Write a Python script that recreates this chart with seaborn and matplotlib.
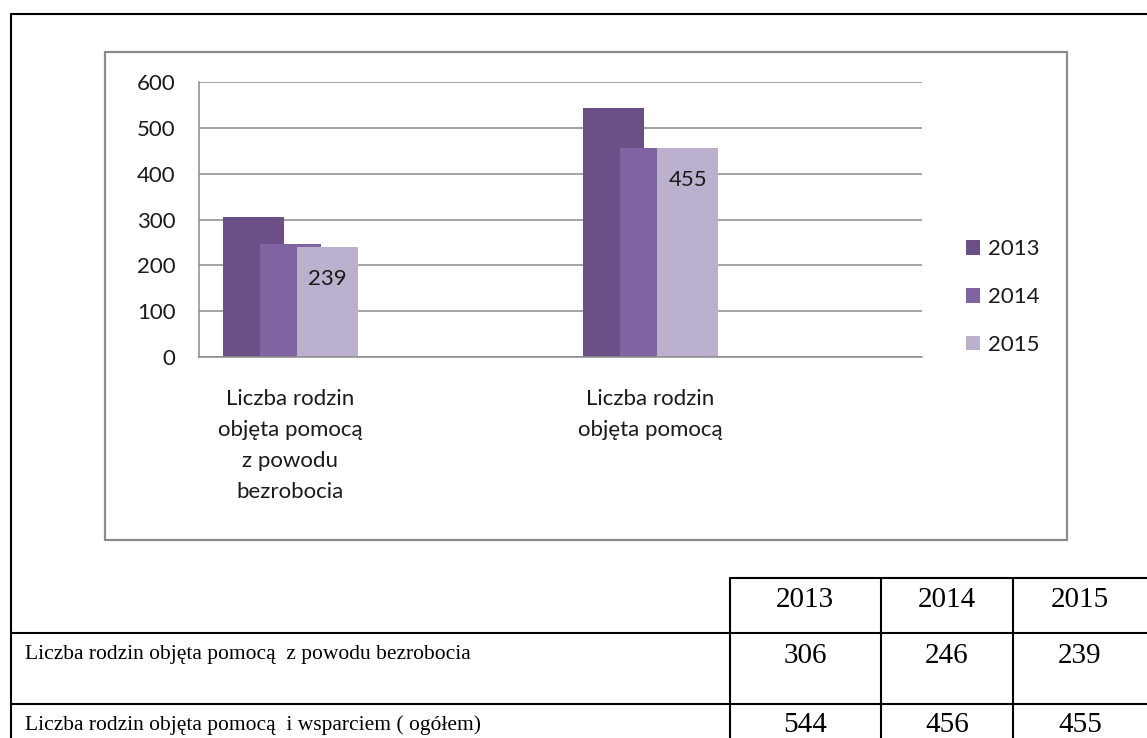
import matplotlib
matplotlib.use("Agg")
import matplotlib.pyplot as plt
from matplotlib.patches import Patch, Rectangle
from matplotlib.lines import Line2D
import seaborn as sns
import pandas as pd

# --- DANE ---
categories = ["Liczba rodzin\nobjęta pomocą\nz powodu\nbezrobocia",
              "Liczba rodzin\nobjęta pomocą"]
years = ["2013", "2014", "2015"]
v2013 = [306, 544]
v2014 = [246, 456]
v2015 = [239, 455]
y_ticks = [0, 100, 200, 300, 400, 500, 600]
table_header = ["2013", "2014", "2015"]
table_labels = ["Liczba rodzin objęta pomocą  z powodu bezrobocia",
                "Liczba rodzin objęta pomocą  i wsparciem ( ogółem)"]
table_row1 = ["306", "246", "239"]
table_row2 = ["544", "456", "455"]
# --- KONIEC DANYCH ---

colors = ["#6a5087", "#8064a2", "#bbb0cd"]
offsets = [-0.103, 0.0, 0.103]
bar_w = 0.171
W, H = 1147, 738


def px(x):
    return x / W


def py(y):
    return 1 - y / H


sns.set_style("white")
plt.rcParams["font.family"] = ["Lato", "DejaVu Sans"]

fig = plt.figure(figsize=(W / 100, H / 100), dpi=100)
ax = fig.add_axes([px(199), py(357), px(922) - px(199), py(82) - py(357)])

series = [v2013, v2014, v2015]
for year, vals, off, col in zip(years, series, offsets, colors):
    df = pd.DataFrame({"pos": [i + off for i in range(len(categories))],
                       "val": vals})
    sns.barplot(data=df, x="pos", y="val", native_scale=True, width=bar_w,
                color=col, saturation=1, errorbar=None, linewidth=0,
                edgecolor="none", ax=ax)

# etykiety tylko dla 2015
for bar, v in zip(ax.containers[-1], v2015):
    ax.annotate(str(v), xy=(bar.get_x() + bar.get_width() / 2, bar.get_height()),
                xytext=(0, -23), textcoords="offset points",
                ha="center", va="center", fontsize=16, color="#1a1a1a")

ax.set_xlim(-0.254, 1.754)
ax.set_ylim(0, 600)
ax.set_yticks(y_ticks)
ax.set_xticks(range(len(categories)))
ax.set_xticklabels(categories, linespacing=1.69)
ax.set_xlabel("")
ax.set_ylabel("")
ax.tick_params(axis="y", length=0, pad=17, labelsize=16, labelcolor="#1a1a1a")
ax.tick_params(axis="x", length=0, pad=23, labelsize=16, labelcolor="#1a1a1a")
for lbl in ax.get_xticklabels():
    lbl.set_verticalalignment("top")
ax.yaxis.grid(True, color="#8a8a8a", linewidth=1.1)
ax.set_axisbelow(True)
for s in ["top", "right"]:
    ax.spines[s].set_visible(False)
for s in ["left", "bottom"]:
    ax.spines[s].set_color("#8a8a8a")
    ax.spines[s].set_linewidth(1.1)

handles = [Patch(facecolor=c, edgecolor="none") for c in colors]
fig.legend(handles, years, loc="center left",
           bbox_to_anchor=(px(946), py(297)), frameon=False,
           handlelength=0.65, handleheight=0.65, handletextpad=0.35,
           labelspacing=1.25, fontsize=16, labelcolor="#1a1a1a")

# ramka wykresu
fig.patches.append(Rectangle((px(105), py(540)), px(1067) - px(105), py(52) - py(540),
                             transform=fig.transFigure, fill=False,
                             edgecolor="#8c8c8c", linewidth=1.6))


def fline(x0, y0, x1, y1):
    fig.add_artist(Line2D([px(x0), px(x1)], [py(y0), py(y1)],
                          color="black", linewidth=1.5,
                          transform=fig.transFigure))


# ramka zewnętrzna i tabela
fline(11, 14, W, 14)
fline(11, 14, 11, H)
fline(730, 578, W, 578)
fline(11, 633, W, 633)
fline(11, 704, W, 704)
for xv in [730, 881, 1013]:
    fline(xv, 578, xv, H)

num_font = dict(family="Liberation Serif", fontsize=21, color="black")
lbl_font = dict(family="Liberation Serif", fontsize=15.5, color="black")
col_centers = [805, 947, 1080]
for xc, t in zip(col_centers, table_header):
    fig.text(px(xc), py(600), t, ha="center", va="center", **num_font)
for xc, t in zip(col_centers, table_row1):
    fig.text(px(xc), py(656), t, ha="center", va="center", **num_font)
for xc, t in zip(col_centers, table_row2):
    fig.text(px(xc), py(725), t, ha="center", va="center", **num_font)
fig.text(px(25), py(655), table_labels[0], ha="left", va="center", **lbl_font)
fig.text(px(25), py(725), table_labels[1], ha="left", va="center", **lbl_font)

fig.savefig("out.png", dpi=100)
